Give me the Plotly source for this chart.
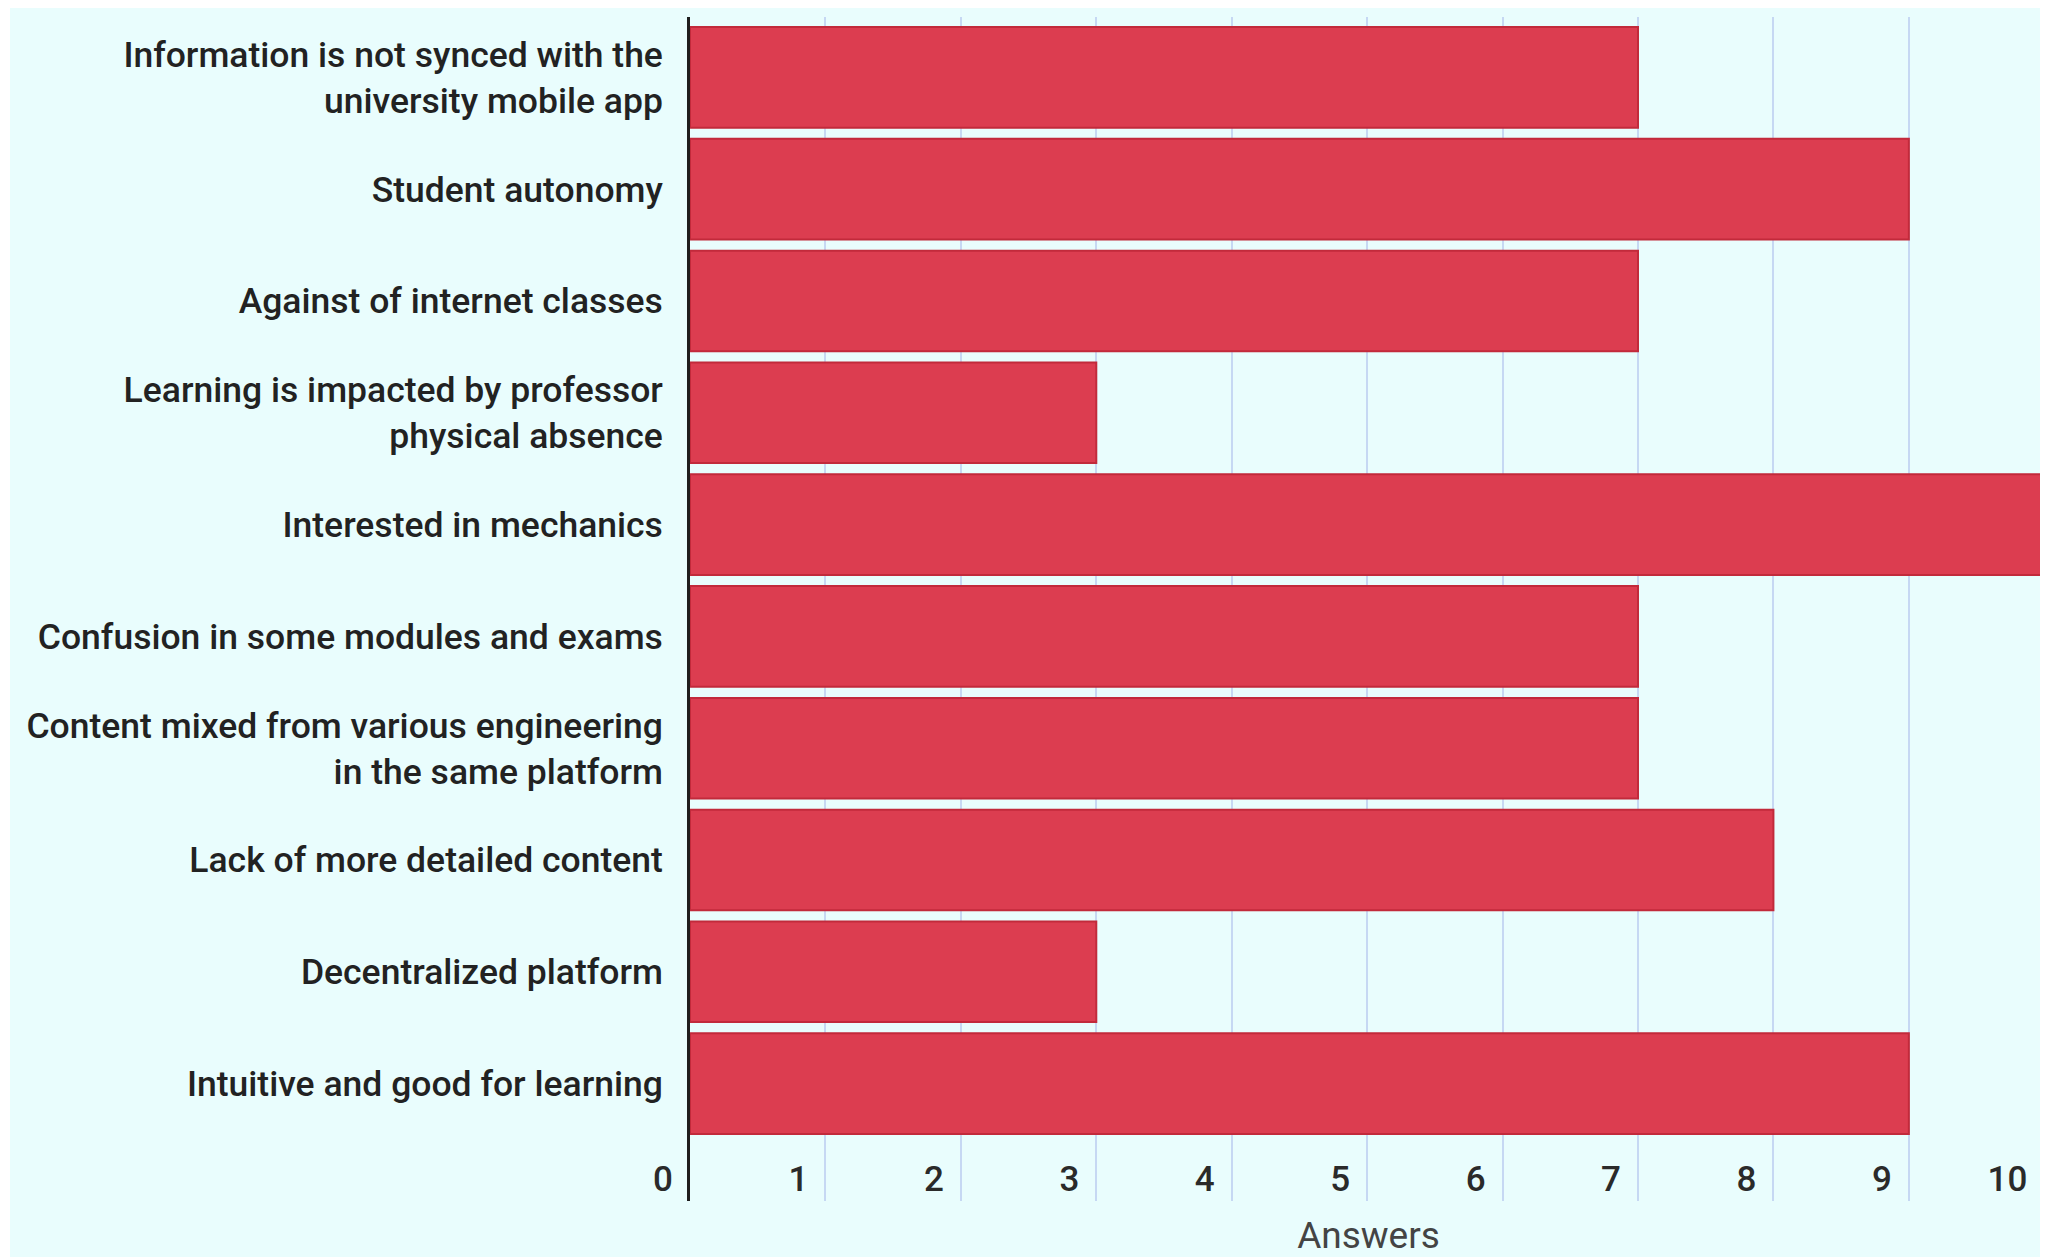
import plotly.graph_objects as go

categories = [
    "Information is not synced with the<br>university mobile app",
    "Student autonomy",
    "Against of internet classes",
    "Learning is impacted by professor<br>physical absence",
    "Interested in mechanics",
    "Confusion in some modules and exams",
    "Content mixed from various engineering<br>in the same platform",
    "Lack of more detailed content",
    "Decentralized platform",
    "Intuitive and good for learning",
]
answers = [7, 9, 7, 3, 10, 7, 7, 8, 3, 9]
x_ticks = [0, 1, 2, 3, 4, 5, 6, 7, 8, 9, 10]
x_title = "Answers"

positions = list(range(len(categories)))

# page body has an 8px margin, so the figure is sized to fit the window
W, H = 2040, 1249
L, R, T, B = 682, 1, 9, 56
plot_w = W - L - R
plot_h = H - T - B

fig = go.Figure(go.Bar(
    x=answers,
    y=positions,
    orientation="h",
    marker=dict(color="#dc3d50", line=dict(color="#c22a3b", width=2)),
    hoverinfo="x+y",
))

font_family = "Roboto, 'Open Sans', sans-serif"

fig.update_layout(
    width=W, height=H,
    margin=dict(l=L, r=R, t=T, b=B, autoexpand=False),
    paper_bgcolor="white",
    plot_bgcolor="#e9fdfd",
    bargap=0.1,
    showlegend=False,
    font=dict(family=font_family, color="#222222", size=36),
    shapes=[dict(
        type="rect", xref="paper", yref="paper", layer="below",
        x0=(2 - L) / plot_w, x1=1 + (R + 5) / plot_w,
        y0=-(B + 5) / plot_h, y1=1 + (T + 5) / plot_h,
        fillcolor="#e9fdfd", line=dict(width=0),
    )],
)

fig.update_xaxes(
    automargin=False,
    range=[0, 10.02],
    tickvals=x_ticks,
    ticktext=[str(v) for v in x_ticks],
    ticklabelposition="inside left",
    ticklabelshift=-17,
    ticklabelstandoff=-3,
    ticklabeloverflow="allow",
    tickfont=dict(size=35, color="#2a2a2a", family=font_family, weight=500),
    showgrid=True, gridcolor="#c6d8f3", gridwidth=2,
    zeroline=False, showline=False,
    title=dict(text=x_title, font=dict(size=37, color="#444444", family=font_family), standoff=30),
)

fig.update_yaxes(
    automargin=False,
    range=[len(categories) - 0.5 + 0.55, -0.54],
    tickvals=positions,
    ticktext=categories,
    tickfont=dict(size=35.5, color="#222222", family=font_family, weight=500),
    ticklabelstandoff=17,
    showgrid=False, zeroline=False,
    showline=True, linecolor="#1e1e1e", linewidth=3,
)

fig.write_html("out.html")
